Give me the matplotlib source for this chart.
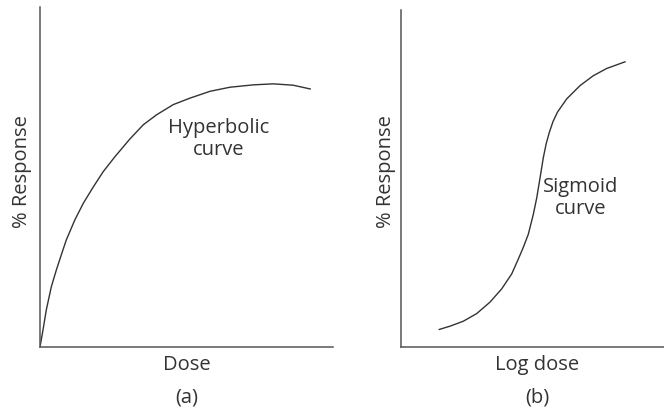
import matplotlib
matplotlib.use('Agg')
import matplotlib.pyplot as plt

# curve values (arbitrary 0-100 units)
hyper_dose = [0, 1.02, 2.15, 3.86, 5.56, 7.27, 8.98, 11.9, 14.8, 18.2, 21.6,
              25.6, 30.7, 35.3, 39.8, 45.5, 51.2, 58.0, 64.8, 72.8, 79.6,
              86.4, 92.2]
hyper_resp = [0, 5.0, 10.9, 17.7, 22.6, 27.1, 31.5, 37.4, 42.3, 47.1, 51.6,
              56.0, 61.2, 65.4, 68.3, 71.3, 73.2, 75.2, 76.4, 77.1, 77.4,
              77.0, 75.9]

sig_logdose = [14.56, 18.63, 23.69, 28.78, 33.84, 38.29, 42.09, 44.60, 46.50,
               48.40, 50.30, 51.60, 52.85, 54.11, 55.2, 56.4, 57.8, 59.5,
               63.00, 68.06, 73.12, 78.21, 85.17]
sig_resp = [5.21, 6.18, 7.65, 9.91, 13.32, 17.26, 21.68, 26.09, 29.56,
            33.44, 39.32, 44.21, 50.09, 56.18, 60.3, 63.7, 66.9, 69.7,
            73.62, 77.56, 80.50, 82.65, 84.62]

panels = [
    ('Dose', '(a)', 'Hyperbolic\ncurve', hyper_dose, hyper_resp),
    ('Log dose', '(b)', 'Sigmoid\ncurve', sig_logdose, sig_resp),
]

W, H = 664, 413
plt.rcParams['font.family'] = ['Open Sans', 'DejaVu Sans']
txt_col = '#333333'
fig = plt.figure(figsize=(W / 100, H / 100), dpi=100)

# axes boxes in pixels: left, right, top, bottom
boxes = [(40, 333, 7, 347), (401, 664, 10, 347)]
# x of bottom labels, note x, note y, y-label x (pixels)
label_pos = [(187, 219, 139, 22), (537, 581, 198, 386)]

for (xl, tag, note, xs, ys), (l, r, t, b), (cx, nx, ny, yx) in zip(panels, boxes, label_pos):
    ax = fig.add_axes([l / W, (H - b) / H, (r - l) / W, (b - t) / H])
    ax.plot(xs, ys, color='#333333', lw=1.0, solid_joinstyle='round')
    ax.set_xlim(0, 100)
    ax.set_ylim(0, 100)
    for s in ['top', 'right']:
        ax.spines[s].set_visible(False)
    for s in ['left', 'bottom']:
        ax.spines[s].set_color('#555555')
        ax.spines[s].set_linewidth(1.1)
    ax.set_xticks([])
    ax.set_yticks([])
    fig.text(cx / W, 1 - 365 / H, xl, ha='center', va='center',
             fontsize=14.5, color=txt_col)
    fig.text(cx / W, 1 - 397 / H, tag, ha='center', va='center',
             fontsize=14.5, color=txt_col)
    fig.text(yx / W, 1 - 172 / H, '% Response', ha='center', va='center',
             rotation=90, fontsize=14.5, color=txt_col)
    fig.text(nx / W, 1 - ny / H, note, ha='center', va='center',
             fontsize=14.5, color=txt_col, linespacing=1.15)

fig.savefig('out.png', dpi=100)
